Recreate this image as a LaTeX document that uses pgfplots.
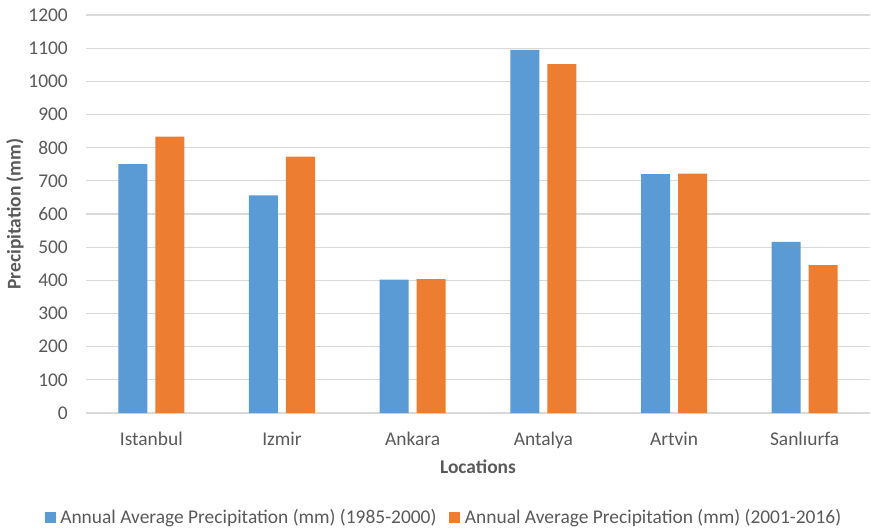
\documentclass[border=0pt]{standalone}
\usepackage{pgfplots}
\pgfplotsset{compat=1.18}
\usepackage{fontspec}
\setmainfont{Carlito}

\definecolor{seriesA}{HTML}{5B9BD5}
\definecolor{seriesB}{HTML}{ED7D31}
\definecolor{labelgray}{HTML}{595959}
\definecolor{gridgray}{HTML}{D9D9D9}

\pgfplotstableread{
idx early late
0 750 833
1 656 773
2 402 404
3 1095 1052
4 720 722
5 516 446
}\precip

\begin{document}
\begin{tikzpicture}
\begin{axis}[
  scale only axis,
  width=784bp, height=398bp,
  ybar=8bp, bar width=29bp,
  xmin=-0.5, xmax=5.5,
  ymin=0, ymax=1200,
  enlargelimits=false,
  xtick={0,...,5},
  xticklabels={Istanbul,Izmir,Ankara,Antalya,Artvin,Sanlıurfa},
  ytick={0,100,...,1200},
  ymajorgrids,
  grid style={gridgray, line width=1.2bp},
  axis line style={draw=none},
  major tick length=0pt,
  font=\fontsize{19.5}{23}\selectfont,
  tick label style={text=labelgray, inner sep=0pt},
  yticklabel style={anchor=east, xshift=-18bp},
  xticklabel style={anchor=base, yshift=-32bp},
  /pgf/number format/assume math mode=true,
  /pgf/number format/1000 sep={},
  xlabel={\bfseries Locations},
  ylabel={\bfseries Precipitation (mm)},
  xlabel style={at={(axis description cs:0.5,-0.1357)}, anchor=center, text=labelgray},
  ylabel style={at={(axis description cs:-0.0906,0.5)}, anchor=center, text=labelgray},
  legend columns=2,
  legend style={at={(axis description cs:0.4566,-0.2613)}, anchor=center,
    draw=none, fill=none, text=labelgray,
    /tikz/every even column/.append style={column sep=11bp}},
  legend image code/.code={%
    \fill[#1] (0bp,-5.5bp) rectangle (11bp,5.5bp);
    \path (0bp,0bp) -- (13.5bp,0bp);},
]
\addplot[fill=seriesA, draw=none] table[x=idx, y=early] {\precip};
\addplot[fill=seriesB, draw=none] table[x=idx, y=late] {\precip};
\legend{Annual Average Precipitation (mm) (1985-2000),
        Annual Average Precipitation (mm) (2001-2016)}
\end{axis}
\pgfresetboundingbox
\path[use as bounding box] (-86bp,-117bp) rectangle (785bp,413bp);
\end{tikzpicture}
\end{document}
